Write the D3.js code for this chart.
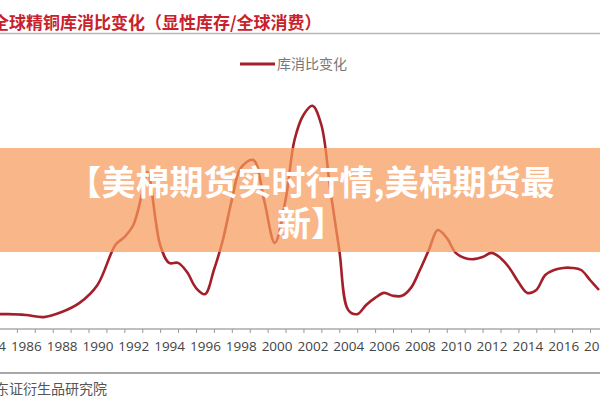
<!DOCTYPE html>
<html>
<head>
<meta charset="utf-8">
<script src="https://cdn.jsdelivr.net/npm/d3@7"></script>
<style>
  html, body { margin: 0; padding: 0; background: #fff; }
  svg { display: block; }
</style>
</head>
<body>
<svg id="chart" width="600" height="400"></svg>
<script>
// data (stock / consumption ratio, half-year steps)
const years = [1984, 1985, 1986, 1987, 1988, 1989, 1990, 1991, 1991.5, 1992, 1992.5, 1992.8,
  1993.5, 1994, 1994.5, 1995, 1995.5, 1996, 1996.5, 1997, 1997.5, 1998, 1998.7, 1999.3,
  1999.9, 2000.5, 2001, 2001.5, 2002, 2002.5, 2003, 2003.5, 2004, 2004.5, 2005, 2005.5,
  2006, 2006.5, 2007, 2007.5, 2008, 2008.5, 2009, 2009.5, 2010, 2010.5, 2011, 2011.5,
  2012, 2012.5, 2013, 2013.5, 2014, 2014.5, 2015, 2015.5, 2016, 2016.5, 2017, 2017.5, 2018];
const ratio = [0.62, 0.62, 0.60, 0.55, 0.67, 0.89, 1.32, 2.28, 2.47, 2.76, 3.53, 4.03,
  2.28, 1.85, 1.85, 1.63, 1.25, 1.10, 1.68, 2.40, 3.36, 4.13, 4.32, 3.36,
  2.33, 3.36, 4.80, 5.40, 5.62, 5.16, 3.60, 2.16, 0.72, 0.62, 0.84, 1.01,
  1.13, 1.06, 1.06, 1.25, 1.68, 2.16, 2.64, 2.45, 2.09, 1.97, 1.94, 1.99,
  2.09, 1.97, 1.73, 1.39, 1.13, 1.20, 1.56, 1.68, 1.73, 1.73, 1.68, 1.44, 1.20];
const tickYears = d3.range(1984, 2019, 2);
const boundaryYears = d3.range(1983.5, 2019, 1);

const titleText = "全球精铜库消比变化（显性库存/全球消费）";
const legendText = "库消比变化";
const sourceText = "东证衍生品研究院";
const bannerLines = ["【美棉期货实时行情,美棉期货最", "新】"];

const svg = d3.select("#chart");
const W = 600, H = 400;
const axisY = 329;

const x = d3.scaleLinear().domain([1984, 2018]).range([-10, 599]);
const y = d3.scaleLinear().domain([0, 6]).range([340, 90]);

// title + rule under it
svg.append("text")
  .attr("x", -8).attr("y", 21)
  .attr("dominant-baseline", "central")
  .style("font", "bold 17px 'Noto Sans CJK SC'")
  .attr("fill", "#c8212c")
  .text(titleText);

svg.append("line")
  .attr("x1", 0).attr("x2", W).attr("y1", 33.5).attr("y2", 33.5)
  .attr("stroke", "#b8b8b8").attr("stroke-width", 1.5);

// legend
svg.append("line")
  .attr("x1", 240).attr("x2", 275).attr("y1", 64).attr("y2", 64)
  .attr("stroke", "#a3202a").attr("stroke-width", 3);
svg.append("text")
  .attr("x", 277).attr("y", 63)
  .attr("dominant-baseline", "central")
  .style("font", "14px 'Noto Sans CJK SC'")
  .attr("fill", "#777")
  .text(legendText);

// x axis: ticks at year boundaries, labels every 2 years
const tickAxis = d3.axisBottom(x).tickValues(boundaryYears).tickSize(4).tickFormat("");
const gTicks = svg.append("g").attr("transform", `translate(0,${axisY})`).call(tickAxis);
gTicks.select(".domain").attr("stroke", "#aaa").attr("stroke-width", 1.5)
  .attr("d", `M0,0H${W}`);
gTicks.selectAll(".tick line").attr("stroke", "#999");

const labelAxis = d3.axisBottom(x).tickValues(tickYears).tickSize(0).tickPadding(12)
  .tickFormat(d3.format("d"));
const gLabels = svg.append("g").attr("transform", `translate(0,${axisY})`).call(labelAxis);
gLabels.select(".domain").remove();
gLabels.selectAll("text")
  .style("font", "13.5px 'Open Sans'")
  .attr("fill", "#444");

// the series, smoothed like the original
const line = d3.line()
  .x((d, i) => x(years[i]))
  .y(d => y(d))
  .curve(d3.curveCatmullRom.alpha(0.5));

svg.append("path")
  .datum(ratio)
  .attr("d", line)
  .attr("fill", "none")
  .attr("stroke", "#a3202a")
  .attr("stroke-width", 2.6)
  .attr("stroke-linejoin", "round");

// bottom rule + source
svg.append("line")
  .attr("x1", 0).attr("x2", W).attr("y1", 373).attr("y2", 373)
  .attr("stroke", "#a8a8a8").attr("stroke-width", 2);

svg.append("text")
  .attr("x", -5).attr("y", 388)
  .attr("dominant-baseline", "central")
  .style("font", "14px 'Noto Sans CJK SC'")
  .attr("fill", "#555")
  .text(sourceText);

// orange banner on top
svg.append("rect")
  .attr("x", 0).attr("y", 148).attr("width", W).attr("height", 104)
  .attr("fill", "#f79a5a").attr("opacity", 0.72);

svg.selectAll(".banner")
  .data(bannerLines)
  .enter().append("text")
  .attr("class", "banner")
  .attr("x", 311)
  .attr("y", (d, i) => 180 + i * 41)
  .attr("text-anchor", "middle")
  .attr("dominant-baseline", "central")
  .style("font", "bold 34px 'Noto Sans CJK SC'")
  .attr("fill", "#fff")
  .text(d => d);
</script>
</body>
</html>
